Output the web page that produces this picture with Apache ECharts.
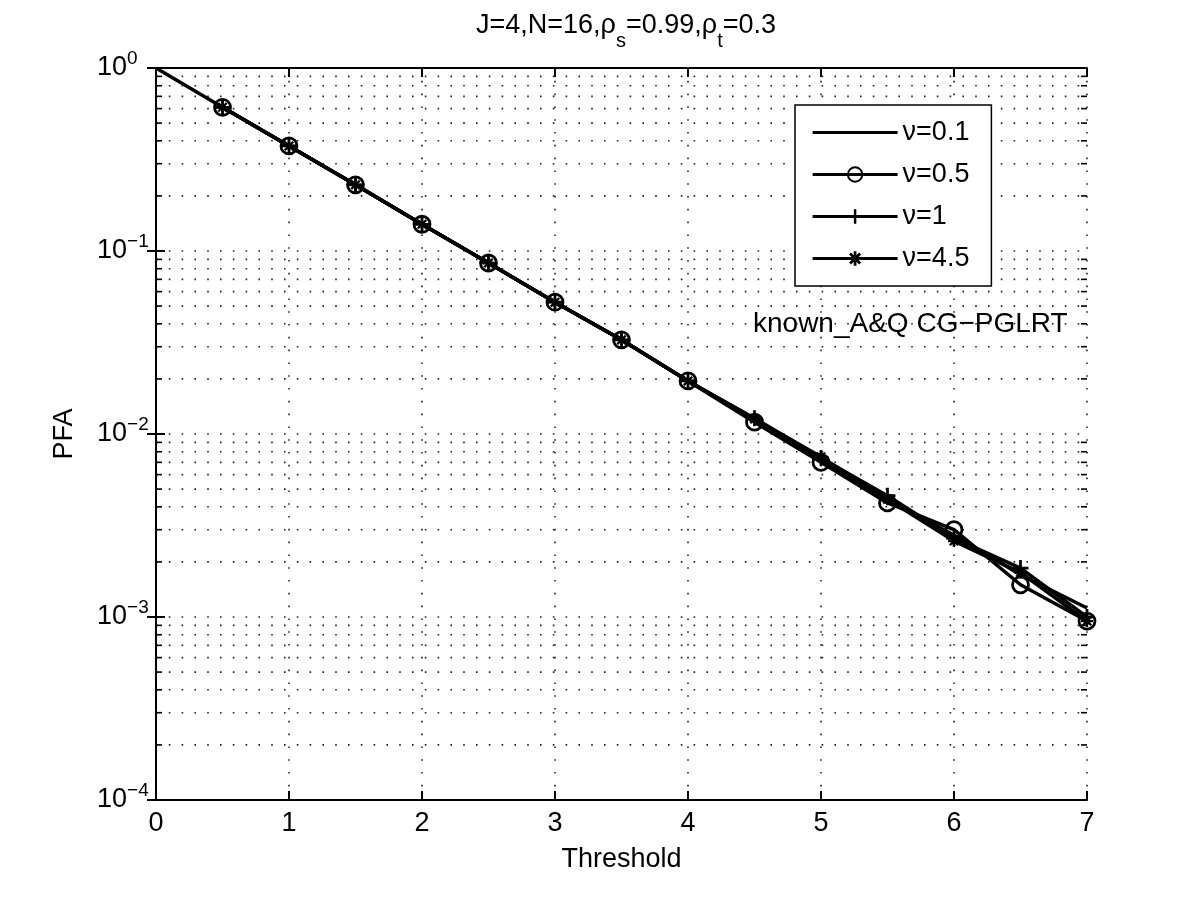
<!DOCTYPE html>
<html>
<head>
<meta charset="utf-8">
<script src="https://cdn.jsdelivr.net/npm/echarts@6/dist/echarts.min.js"></script>
<style>
  html, body { margin: 0; padding: 0; background: #fff; }
  #main { width: 1200px; height: 903px; }
</style>
</head>
<body>
<div id="main"></div>
<script>
// thresholds (x) and PFA values
const thresholds = [0, 0.5, 1, 1.5, 2, 2.5, 3, 3.5, 4, 4.5, 5, 5.5, 6, 6.5, 7];
const markerThresholds = thresholds.slice(1);
const pfaNu01 = [1, 0.61, 0.375, 0.23, 0.14, 0.086, 0.0525, 0.0327, 0.0195, 0.012, 0.0073, 0.0044, 0.0028, 0.0017, 0.00112];
const pfaNu05 = [0.61, 0.375, 0.23, 0.14, 0.086, 0.0525, 0.0327, 0.0195, 0.0116, 0.0070, 0.0042, 0.0030, 0.0015, 0.00095];
const pfaNu1 = [0.61, 0.375, 0.23, 0.14, 0.086, 0.0525, 0.0327, 0.0195, 0.0122, 0.0074, 0.0046, 0.0027, 0.00185, 0.00100];
const pfaNu45 = [0.61, 0.375, 0.23, 0.14, 0.086, 0.0525, 0.0327, 0.0195, 0.0121, 0.0075, 0.0044, 0.0026, 0.00175, 0.00095];
const seriesNames = ['ν=0.1', 'ν=0.5', 'ν=1', 'ν=4.5'];
const yDecades = [-4, -3, -2, -1, 0];

// minor log grid: 2..9 in each decade
const minorVals = [];
yDecades.slice(0, -1).forEach(d => {
  for (let k = 2; k <= 9; k++) minorVals.push(k * Math.pow(10, d));
});

const pair = (xs, ys) => ys.map((v, i) => [xs[i], v]);

const plusPath = 'path://M-1.7,-10L1.7,-10L1.7,10L-1.7,10Z M-10,-1.7L10,-1.7L10,1.7L-10,1.7Z';
const starPath = 'path://M-1.9,-10L1.9,-10L1.9,10L-1.9,10Z M-10,-1.9L10,-1.9L10,1.9L-10,1.9Z' +
  ' M-5.7,-8.4L8.4,5.7L5.7,8.4L-8.4,-5.7Z M5.7,-8.4L8.4,-5.7L-5.7,8.4L-8.4,5.7Z';

const FONT = 'Liberation Sans, Arial, Helvetica, sans-serif';
const FS = 27;
const dotted = { color: '#222', width: 1.6, type: [1.6, 11.2] };
const axisLine = { show: true, lineStyle: { color: '#000', width: 2 } };
const majorTick = { inside: true, length: 9, lineStyle: { color: '#000', width: 2 } };

const myChart = echarts.init(document.getElementById('main'));

const lineBase = {
  type: 'line',
  xAxisIndex: 0,
  yAxisIndex: 0,
  z: 5,
  lineStyle: { color: '#000', width: 3.5 },
  itemStyle: { color: '#000' },
  emphasis: { disabled: true },
  animation: false
};

const option = {
  animation: false,
  backgroundColor: '#fff',
  title: {
    text: '{a|J=4,N=16,ρ}{b|s}{a|=0.99,ρ}{b|t}{a|=0.3}',
    left: 621,
    textAlign: 'center',
    top: 7,
    textStyle: {
      fontWeight: 'normal',
      rich: {
        a: { fontFamily: FONT, fontSize: FS, fontWeight: 'normal', color: '#000', lineHeight: 32, verticalAlign: 'top' },
        b: { fontFamily: FONT, fontSize: 20, fontWeight: 'normal', color: '#000', lineHeight: 20, padding: [19, 0, 0, 0], verticalAlign: 'top' }
      }
    }
  },
  grid: { left: 156, right: 113, top: 68, bottom: 103, containLabel: false },
  legend: {
    data: [
      { name: seriesNames[0], itemStyle: { opacity: 0 } },
      { name: seriesNames[1] },
      { name: seriesNames[2] },
      { name: seriesNames[3] }
    ],
    orient: 'vertical',
    left: 795,
    top: 105,
    itemWidth: 85,
    itemHeight: 18,
    itemGap: 15,
    padding: [14, 22, 14, 16],
    backgroundColor: '#fff',
    borderColor: '#000',
    borderWidth: 1.5,
    borderRadius: 0,
    lineStyle: { width: 3.2 },
    textStyle: { fontFamily: FONT, fontSize: FS, color: '#000' },
    z: 10
  },
  xAxis: [{
    type: 'value',
    min: 0,
    max: 7,
    interval: 1,
    name: 'Threshold',
    nameLocation: 'middle',
    nameGap: 46,
    nameTextStyle: { fontFamily: FONT, fontSize: FS, color: '#000' },
    axisLine: axisLine,
    axisTick: majorTick,
    axisLabel: { margin: 10, fontFamily: FONT, fontSize: FS, color: '#000' },
    splitLine: { show: true, lineStyle: dotted }
  }, {
    type: 'value',
    position: 'top',
    min: 0,
    max: 7,
    interval: 1,
    axisLine: axisLine,
    axisTick: majorTick,
    axisLabel: { show: false },
    splitLine: { show: false }
  }],
  yAxis: [{
    type: 'log',
    logBase: 10,
    min: 1e-4,
    max: 1,
    name: 'PFA',
    nameLocation: 'middle',
    nameGap: 78,
    nameTextStyle: { fontFamily: FONT, fontSize: FS, color: '#000' },
    axisLine: axisLine,
    axisTick: majorTick,
    axisLabel: {
      margin: 59,
      align: 'left',
      formatter: v => '{b|10}{s|' + Math.round(Math.log10(v)).toString().replace('-', '−') + '}',
      rich: {
        b: { fontFamily: FONT, fontSize: FS, color: '#000', lineHeight: 38, verticalAlign: 'middle' },
        s: { fontFamily: FONT, fontSize: 19, color: '#000', lineHeight: 19, verticalAlign: 'top' }
      }
    },
    splitLine: { show: true, lineStyle: dotted }
  }, {
    type: 'log',
    logBase: 10,
    min: 1e-4,
    max: 1,
    position: 'right',
    axisLine: axisLine,
    axisTick: majorTick,
    axisLabel: { show: false },
    splitLine: { show: false }
  }],
  graphic: [{
    type: 'text',
    left: 753,
    top: 310,
    style: { text: 'known_A&Q CG−PGLRT', fontFamily: FONT, fontSize: 28, fill: '#000' },
    z: 6
  }],
  series: [
    {
      type: 'custom',
      name: 'minorGrid',
      xAxisIndex: 0,
      yAxisIndex: 0,
      silent: true,
      z: 1,
      data: minorVals.map(v => [0, v]),
      renderItem: (params, api) => {
        const v = api.value(1);
        const p1 = api.coord([0, v]);
        const p2 = api.coord([7, v]);
        const tickStyle = { stroke: '#000', lineWidth: 1.6 };
        return {
          type: 'group',
          children: [
            { type: 'line', shape: { x1: p1[0], y1: p1[1], x2: p2[0], y2: p2[1] },
              style: { stroke: '#222', lineWidth: 1.6, lineDash: [1.6, 11.2] } },
            { type: 'line', shape: { x1: p1[0], y1: p1[1], x2: p1[0] + 6, y2: p1[1] }, style: tickStyle },
            { type: 'line', shape: { x1: p2[0] - 6, y1: p2[1], x2: p2[0], y2: p2[1] }, style: tickStyle }
          ]
        };
      }
    },
    Object.assign({}, lineBase, {
      name: seriesNames[0],
      data: pair(thresholds, pfaNu01),
      showSymbol: false,
      symbol: 'none'
    }),
    Object.assign({}, lineBase, {
      name: seriesNames[1],
      data: pair(markerThresholds, pfaNu05),
      symbol: 'circle',
      symbolSize: 16,
      itemStyle: { color: 'rgba(0,0,0,0)', borderColor: '#000', borderWidth: 2.8 }
    }),
    Object.assign({}, lineBase, {
      name: seriesNames[2],
      data: pair(markerThresholds, pfaNu1),
      symbol: plusPath,
      symbolSize: 16
    }),
    Object.assign({}, lineBase, {
      name: seriesNames[3],
      data: pair(markerThresholds, pfaNu45),
      symbol: starPath,
      symbolSize: 12
    })
  ]
};

myChart.setOption(option);
</script>
</body>
</html>
